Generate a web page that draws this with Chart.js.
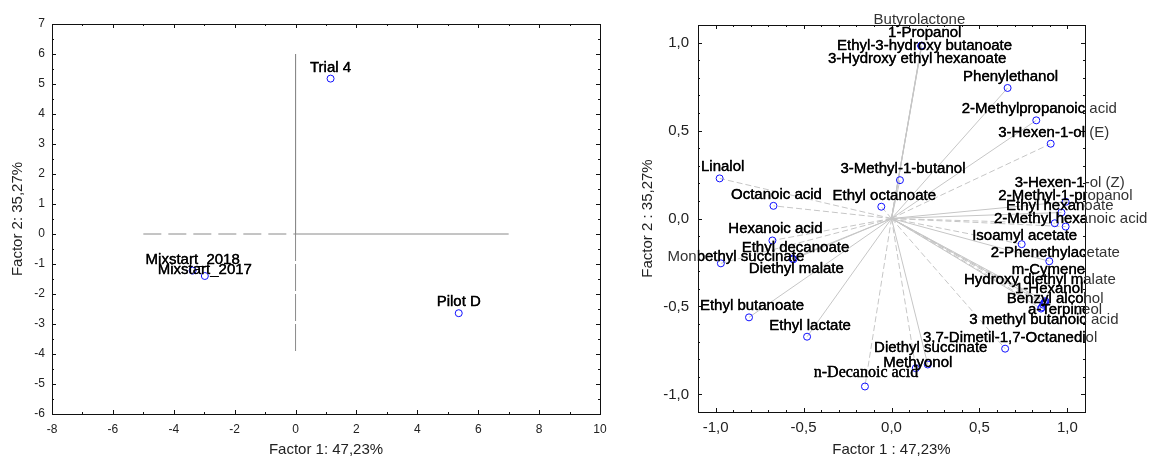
<!DOCTYPE html>
<html>
<head>
<meta charset="utf-8">
<script src="https://cdn.jsdelivr.net/npm/chart.js@4.4.1/dist/chart.umd.min.js"></script>
<style>
  body { margin: 0; background: #fff; }
  #scores { position: absolute; left: 0; top: 0; }
  #loads { position: absolute; left: 620px; top: 0; }
</style>
</head>
<body>
<canvas id="scores" width="620" height="459"></canvas>
<canvas id="loads" width="531" height="459"></canvas>
<script>
// ---- scores (left plot)
var sampleNames = ["Trial 4", "Mixstart_2018", "Mixstart_2017", "Pilot D"];
var sampleF1 = [1.15, -3.38, -2.98, 5.36];
var sampleF2 = [5.18, -1.22, -1.40, -2.64];

// reference axes drawn through the origin
var refX = [-5, 0, 7];
var refY = [-4, 0, 6];

// ---- loadings (right plot)
var varNames = [
  "Butyrolactone", "1-Propanol", "Ethyl-3-hydroxy butanoate", "3-Hydroxy ethyl hexanoate",
  "Phenylethanol", "2-Methylpropanoic acid", "3-Hexen-1-ol (E)", "Linalol",
  "Octanoic acid", "3-Methyl-1-butanol", "Ethyl octanoate", "3-Hexen-1-ol (Z)",
  "2-Methyl-1-propanol", "Ethyl hexanoate", "2-Methyl hexanoic acid", "Hexanoic acid",
  "Ethyl decanoate", "Monbethyl succinate", "Diethyl malate", "Isoamyl acetate",
  "2-Phenethylacetate", "m-Cymene", "Hydroxy diethyl malate", "1-Hexanol",
  "Benzyl alcohol", "a-Terpineol", "3 methyl butanoic acid", "3,7-Dimetil-1,7-Octanediol",
  "Diethyl succinate", "Methyonol", "n-Decanoic acid", "Ethyl butanoate", "Ethyl lactate"
];
var varF1 = [
  0.170, 0.172, 0.171, 0.169,
  0.660, 0.823, 0.905, -0.977,
  -0.671, 0.048, -0.058, 0.990,
  0.966, 0.928, 0.990, -0.677,
  -0.563, -0.970, -0.558, 0.740,
  0.897, 0.875, 0.872, 0.868,
  0.862, 0.850, 0.855, 0.646,
  0.206, 0.138, -0.151, -0.810, -0.480
];
var varF2 = [
  0.982, 0.982, 0.981, 0.980,
  0.742, 0.558, 0.425, 0.228,
  0.072, 0.218, 0.067, 0.095,
  0.034, -0.027, -0.046, -0.125,
  -0.228, -0.255, -0.232, -0.146,
  -0.243, -0.470, -0.476, -0.482,
  -0.490, -0.512, -0.505, -0.740,
  -0.830, -0.851, -0.955, -0.562, -0.672
];

// ---- styles
var dashedVars = ["3-Hexen-1-ol (E)", "Linalol", "Octanoic acid", "Ethyl octanoate",
  "Ethyl hexanoate", "2-Methyl hexanoic acid", "Hexanoic acid", "Monbethyl succinate",
  "Isoamyl acetate", "Hydroxy diethyl malate", "Benzyl alcohol", "3 methyl butanoic acid",
  "3,7-Dimetil-1,7-Octanediol", "Methyonol", "n-Decanoic acid"];

// label nudges [dx, dy] in pixels, where the labels had to dodge each other
var labelNudge = {
  "Butyrolactone": [-5, -15], "1-Propanol": [0, -2],
  "Ethyl-3-hydroxy butanoate": [0, 11], "3-Hydroxy ethyl hexanoate": [-7, 24],
  "3-Hexen-1-ol (Z)": [1, -8], "2-Methyl-1-propanol": [1, -6],
  "Ethyl hexanoate": [2, -6], "2-Methyl hexanoic acid": [2, 3],
  "Monbethyl succinate": [12, 5], "Diethyl malate": [0, 21],
  "Isoamyl acetate": [0, 3], "2-Phenethylacetate": [3, 3],
  "m-Cymene": [0, -20], "Hydroxy diethyl malate": [-8, -11], "1-Hexanol": [2, -3],
  "Benzyl alcohol": [9, 5], "a-Terpineol": [21, 12], "3 methyl butanoic acid": [-1, 24],
  "3,7-Dimetil-1,7-Octanediol": [2, 0], "Diethyl succinate": [0, -6],
  "Methyonol": [-1, 6], "n-Decanoic acid": [-2, -2],
  "Mixstart_2017": [0, 5]
};
var serifLabels = ["n-Decanoic acid"];

var SANS = '"Liberation Sans", Arial, sans-serif';

function comma(v, digits) {
  if (Math.abs(v) < 1e-9) v = 0;
  return v.toFixed(digits).replace('.', ',');
}

// frame with inward ticks on all four sides
var frameTicks = {
  id: 'frameTicks',
  afterDraw: function(chart, args, o) {
    var ctx = chart.ctx, a = chart.chartArea;
    var sx = chart.scales.x, sy = chart.scales.y;
    ctx.save();
    ctx.strokeStyle = '#111';
    ctx.lineWidth = 1;
    ctx.strokeRect(Math.round(a.left) + 0.5, Math.round(a.top) + 0.5,
      Math.round(a.right - a.left), Math.round(a.bottom - a.top));
    function run(scale, minor, every, horiz) {
      var i0 = Math.ceil(scale.min / minor - 1e-6), i1 = Math.floor(scale.max / minor + 1e-6);
      for (var i = i0; i <= i1; i++) {
        var len = (i % every === 0) ? 4 : 2;
        var p = Math.round(scale.getPixelForValue(i * minor)) + 0.5;
        ctx.beginPath();
        if (horiz) {
          ctx.moveTo(p, a.bottom); ctx.lineTo(p, a.bottom - len);
          ctx.moveTo(p, a.top); ctx.lineTo(p, a.top + len);
        } else {
          ctx.moveTo(a.left, p); ctx.lineTo(a.left + len, p);
          ctx.moveTo(a.right, p); ctx.lineTo(a.right - len, p);
        }
        ctx.stroke();
      }
    }
    run(sx, o.xMinor, o.xEvery, true);
    run(sy, o.yMinor, o.yEvery, false);
    ctx.restore();
  }
};

// text labels centred above each point
var pointLabels = {
  id: 'pointLabels',
  afterDraw: function(chart, args, o) {
    var ctx = chart.ctx, a = chart.chartArea;
    var meta = chart.getDatasetMeta(o.dataset);
    var names = o.names;
    function put(pass) {
      meta.data.forEach(function(pt, i) {
        var name = names[i];
        var nd = labelNudge[name] || [0, 0];
        var serif = serifLabels.indexOf(name) >= 0;
        ctx.font = serif ? '16px "Liberation Serif", serif' : '15px ' + SANS;
        var x = pt.x + o.dx + nd[0], y = pt.y - 7 + nd[1];
        if (pass === 0) {
          ctx.fillStyle = '#333';
          ctx.fillText(name, x, y);
        } else {
          ctx.fillStyle = '#000';
          ctx.strokeStyle = '#000';
          ctx.lineWidth = 0.3;
          ctx.fillText(name, x, y);
          ctx.strokeText(name, x, y);
        }
      });
    }
    ctx.save();
    ctx.textAlign = 'center';
    ctx.textBaseline = 'alphabetic';
    put(0);
    ctx.beginPath();
    ctx.rect(a.left, a.top, a.right - a.left, a.bottom - a.top);
    ctx.clip();
    put(1);
    ctx.restore();
  }
};

function pointSet(xs, ys) {
  return {
    type: 'scatter',
    data: xs.map(function(v, i) { return { x: v, y: ys[i] }; }),
    pointStyle: 'circle',
    pointRadius: 3.5,
    pointBorderWidth: 1,
    pointBorderColor: '#1010ff',
    pointBackgroundColor: 'rgba(255,255,255,0)',
    showLine: false,
    order: 0
  };
}

function lineSet(pts, dash, color) {
  return {
    type: 'line',
    data: pts,
    borderColor: color,
    borderWidth: 1,
    borderDash: dash,
    pointRadius: 0,
    fill: false,
    tension: 0,
    order: 5
  };
}

function axisOpts(min, max, step, fontSize, pad, titleText, titleFont, titlePad, fmt, fixFn) {
  return {
    type: 'linear',
    min: min,
    max: max,
    grid: { display: false, drawTicks: false },
    border: { display: false },
    ticks: {
      stepSize: step,
      includeBounds: false,
      padding: pad,
      color: '#222',
      font: { family: SANS, size: fontSize },
      callback: fmt
    },
    title: {
      display: true,
      text: titleText,
      color: '#222',
      font: { family: SANS, size: titleFont },
      padding: titlePad
    },
    afterFit: fixFn
  };
}

// ---- left chart: scores
var leftDatasets = [
  lineSet([{ x: refX[0], y: 0 }, { x: refX[1], y: 0 }], [18, 7], '#8a8a8a'),
  lineSet([{ x: refX[1], y: 0 }, { x: refX[2], y: 0 }], [], '#8a8a8a'),
  lineSet([{ x: 0, y: refY[2] }, { x: 0, y: refY[1] }], [], '#8a8a8a'),
  lineSet([{ x: 0, y: refY[1] }, { x: 0, y: refY[0] }], [27, 3], '#8a8a8a'),
  pointSet(sampleF1, sampleF2)
];

new Chart(document.getElementById('scores'), {
  type: 'scatter',
  data: { datasets: leftDatasets },
  plugins: [frameTicks, pointLabels],
  options: {
    responsive: false,
    animation: false,
    layout: { padding: { left: 0, top: 24, right: 20, bottom: 0 } },
    plugins: {
      legend: { display: false },
      tooltip: { enabled: false },
      frameTicks: { xMinor: 1, xEvery: 2, yMinor: 0.5, yEvery: 2 },
      pointLabels: { dataset: 4, names: sampleNames, dx: 0 }
    },
    scales: {
      x: axisOpts(-8, 10, 2, 12, 8, 'Factor 1: 47,23%', 15, { top: 0, bottom: 0 },
        function(v) { return comma(v, 0); },
        function(s) { s.height = 45; }),
      y: axisOpts(-6, 7, 1, 12, 7, 'Factor 2: 35,27%', 15, { top: 9, bottom: 0 },
        function(v) { return comma(v, 0); },
        function(s) { s.width = 52; })
    }
  }
});

// ---- right chart: loadings
var rightDatasets = varNames.map(function(n, i) {
  var dashed = dashedVars.indexOf(n) >= 0;
  return lineSet([{ x: 0, y: 0 }, { x: varF1[i], y: varF2[i] }], dashed ? [6, 3] : [], '#c6c6c6');
});
rightDatasets.push(pointSet(varF1, varF2));

new Chart(document.getElementById('loads'), {
  type: 'scatter',
  data: { datasets: rightDatasets },
  plugins: [frameTicks, pointLabels],
  options: {
    responsive: false,
    animation: false,
    layout: { padding: { left: 0, top: 25, right: 66, bottom: 0 } },
    plugins: {
      legend: { display: false },
      tooltip: { enabled: false },
      frameTicks: { xMinor: 0.1, xEvery: 5, yMinor: 0.1, yEvery: 5 },
      pointLabels: { dataset: rightDatasets.length - 1, names: varNames, dx: 3 }
    },
    scales: {
      x: axisOpts(-1.1, 1.1, 0.5, 15, 7, 'Factor 1 : 47,23%', 15, { top: 0, bottom: 0 },
        function(v) { return comma(v, 1); },
        function(s) { s.height = 47; }),
      y: axisOpts(-1.1, 1.1, 0.5, 15, 9, 'Factor 2 : 35,27%', 15, { top: 19, bottom: 0 },
        function(v) { return comma(v, 1); },
        function(s) { s.width = 78; })
    }
  }
});
</script>
</body>
</html>
